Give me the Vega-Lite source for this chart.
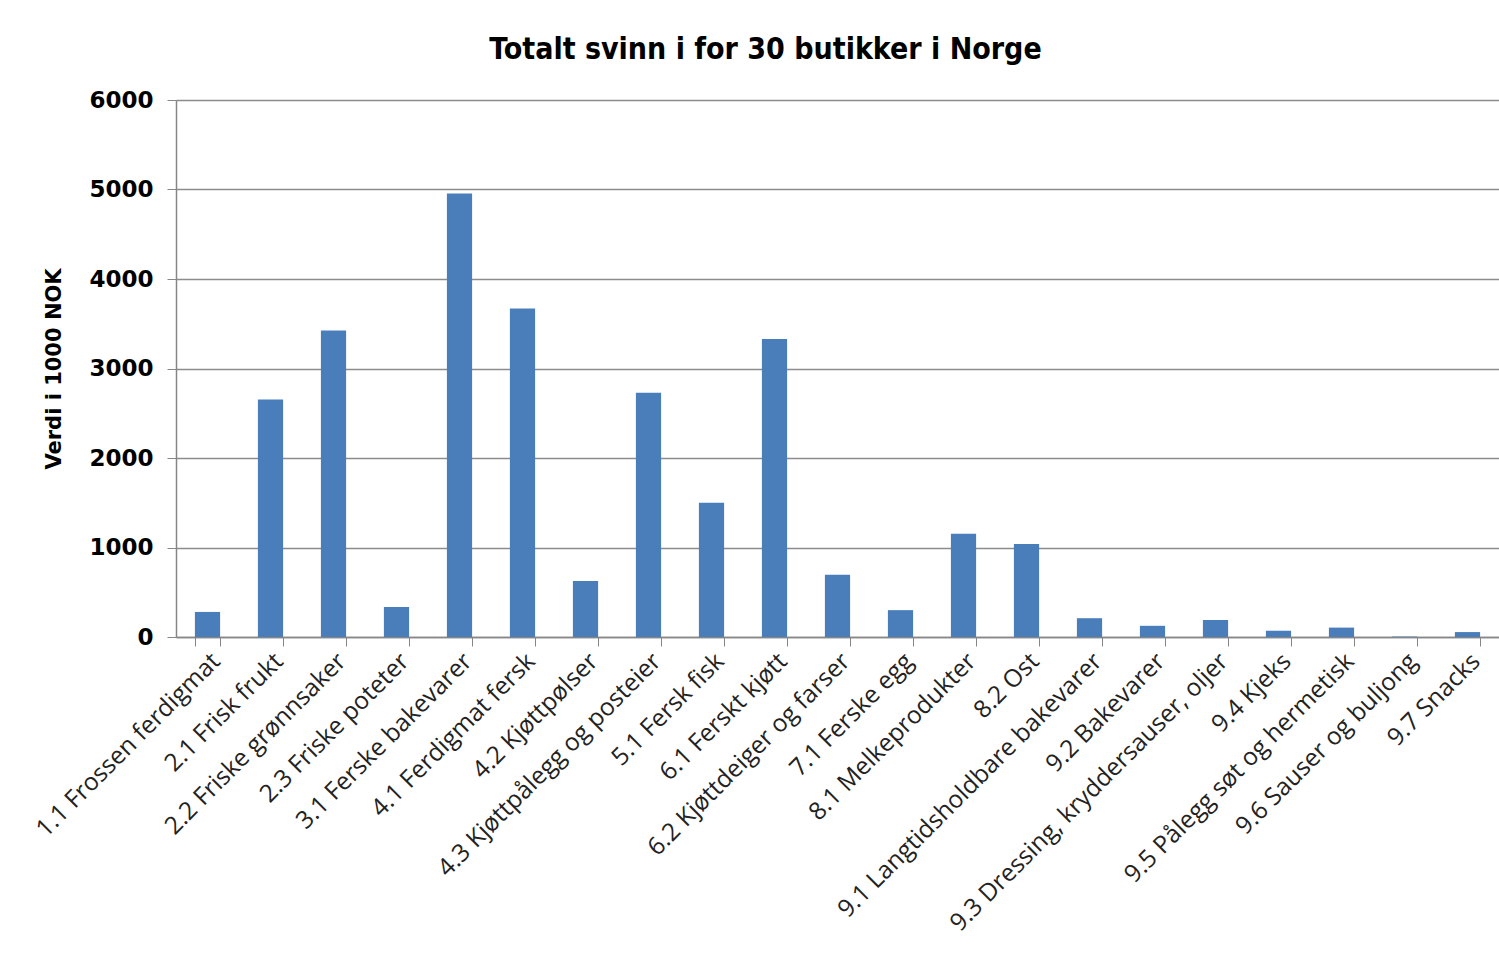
{
  "$schema": "https://vega.github.io/schema/vega-lite/v6.json",
  "width": 1323,
  "height": 537,
  "autosize": "none",
  "padding": {"left": 176, "top": 100, "right": 0, "bottom": 341},
  "background": "white",
  "title": {
    "text": "Totalt svinn i  for 30 butikker i Norge",
    "font": "'DejaVu Sans Condensed', 'Liberation Sans', sans-serif",
    "fontSize": 30,
    "fontWeight": "bold",
    "color": "black",
    "anchor": "middle",
    "dx": -72,
    "offset": 0,
    "baseline": "alphabetic"
  },
  "data": {
    "values": [
      {"kategori": "1.1 Frossen ferdigmat", "verdi": 280},
      {"kategori": "2.1 Frisk frukt", "verdi": 2654},
      {"kategori": "2.2 Friske grønnsaker", "verdi": 3424},
      {"kategori": "2.3 Friske poteter", "verdi": 335},
      {"kategori": "3.1 Ferske bakevarer", "verdi": 4955},
      {"kategori": "4.1 Ferdigmat fersk", "verdi": 3670},
      {"kategori": "4.2 Kjøttpølser", "verdi": 625},
      {"kategori": "4.3 Kjøttpålegg og posteier", "verdi": 2730},
      {"kategori": "5.1 Fersk fisk", "verdi": 1500},
      {"kategori": "6.1 Ferskt kjøtt", "verdi": 3330},
      {"kategori": "6.2 Kjøttdeiger og farser", "verdi": 695},
      {"kategori": "7.1 Ferske egg", "verdi": 300},
      {"kategori": "8.1 Melkeprodukter", "verdi": 1155},
      {"kategori": "8.2 Ost", "verdi": 1040},
      {"kategori": "9.1 Langtidsholdbare bakevarer", "verdi": 210},
      {"kategori": "9.2 Bakevarer", "verdi": 125},
      {"kategori": "9.3 Dressing, kryddersauser, oljer", "verdi": 190},
      {"kategori": "9.4 Kjeks", "verdi": 70},
      {"kategori": "9.5 Pålegg søt og hermetisk", "verdi": 105},
      {"kategori": "9.6 Sauser og buljong", "verdi": 5},
      {"kategori": "9.7 Snacks", "verdi": 55}
    ]
  },
  "mark": {"type": "bar", "color": "#4a7ebb"},
  "encoding": {
    "x": {
      "field": "kategori",
      "type": "nominal",
      "sort": null,
      "scale": {"paddingInner": 0.6, "paddingOuter": 0.3},
      "axis": {
        "title": null,
        "labelAngle": -45,
        "labelFont": "Open Sans",
        "labelFontSize": 24.5,
        "labelColor": "#222222",
        "labelPadding": 3,
        "tickBand": "extent",
        "tickSize": 9,
        "tickColor": "#868686",
        "domainColor": "#868686",
        "domainWidth": 1.5,
        "labelLimit": 600,
        "labelOverlap": false
      }
    },
    "y": {
      "field": "verdi",
      "type": "quantitative",
      "scale": {"domain": [0, 6000], "nice": false},
      "axis": {
        "title": "Verdi i 1000 NOK",
        "titleFont": "DejaVu Sans",
        "titleFontSize": 21,
        "titleFontWeight": "bold",
        "titleColor": "black",
        "titlePadding": 24,
        "values": [0, 1000, 2000, 3000, 4000, 5000, 6000],
        "format": "d",
        "labelFont": "DejaVu Sans",
        "labelFontSize": 23,
        "labelFontWeight": "bold",
        "labelColor": "black",
        "labelPadding": 14,
        "tickSize": 9,
        "tickColor": "#868686",
        "domainColor": "#868686",
        "domainWidth": 1.5,
        "gridColor": "#8c8c8c",
        "gridWidth": 1.5
      }
    }
  },
  "config": {
    "view": {"stroke": null},
    "axisX": {"grid": false}
  }
}
